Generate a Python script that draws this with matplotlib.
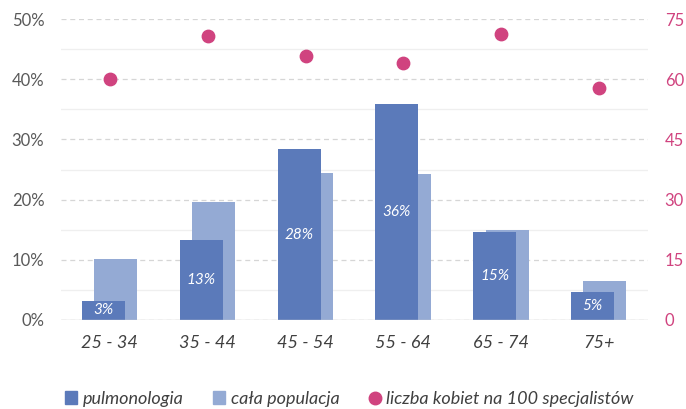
import numpy as np
import matplotlib
matplotlib.use("Agg")
import matplotlib.pyplot as plt
from matplotlib.lines import Line2D
from matplotlib.patches import Patch

plt.rcParams["font.family"] = ["Lato", "DejaVu Sans"]

grupy = ["25 - 34", "35 - 44", "45 - 54", "55 - 64", "65 - 74", "75+"]
pulmonologia = [3.2, 13.3, 28.4, 35.9, 14.7, 4.7]
cala_populacja = [10.1, 19.6, 24.5, 24.3, 15.0, 6.5]
kobiety_na_100 = [60.0, 70.7, 65.8, 64.0, 71.3, 57.7]
etykiety = ["3%", "13%", "28%", "36%", "15%", "5%"]

c_pulmo = "#5b7aba"
c_pop = "#94aad4"
c_kob = "#d0437f"

fig = plt.figure(figsize=(6.86, 4.09), dpi=100)
ax = fig.add_axes([61 / 686, 1 - 320 / 409, 587 / 686, 301 / 409])
x = np.arange(len(grupy))

ax.bar(x + 0.06, cala_populacja, width=0.44, color=c_pop, zorder=2)
b = ax.bar(x - 0.066, pulmonologia, width=0.44, color=c_pulmo, zorder=3)
ax.bar_label(b, labels=etykiety, label_type="center", color="white",
             fontsize=11, style="italic")

ax.set_xlim(-0.5, 5.5)
ax.set_ylim(0, 50)
ax.set_yticks(range(0, 51, 10))
ax.set_yticks(range(5, 50, 10), minor=True)
ax.set_yticklabels([f"{v}%" for v in range(0, 51, 10)])
ax.grid(axis="y", which="major", linestyle=(0, (4, 3)), color="#d6d6d6", lw=0.9, zorder=0)
ax.grid(axis="y", which="minor", linestyle="-", color="#efefef", lw=0.9, zorder=0)
ax.axhline(0, color="#d0d0d0", lw=1, zorder=4)
ax.set_xticks(x)
ax.set_xticklabels(grupy, fontsize=13, style="italic", color="#404040")
for s in ax.spines.values():
    s.set_visible(False)
ax.tick_params(axis="x", length=0, pad=11)
ax.tick_params(axis="y", which="both", length=0, labelsize=12, labelcolor="#595959", pad=12)

ax2 = ax.twinx()
ax2.scatter(x, kobiety_na_100, s=80, color=c_kob, zorder=5)
ax2.set_ylim(0, 75)
ax2.set_yticks(range(0, 76, 15))
for s in ax2.spines.values():
    s.set_visible(False)
ax2.tick_params(axis="y", length=0, labelsize=12, labelcolor=c_kob, pad=12)

uchwyty = [
    Patch(color=c_pulmo, label="pulmonologia"),
    Patch(color=c_pop, label="cała populacja"),
    Line2D([], [], marker="o", ls="", color=c_kob, markersize=9,
           label="liczba kobiet na 100 specjalistów"),
]
fig.legend(handles=uchwyty, loc="lower center", bbox_to_anchor=(0.509, -0.035), ncol=3,
           frameon=False, prop={"size": 13, "style": "italic"},
           handlelength=0.7, handleheight=0.7, handletextpad=0.3, columnspacing=1.6,
           labelcolor="#404040")

fig.savefig("out.png", dpi=100)
